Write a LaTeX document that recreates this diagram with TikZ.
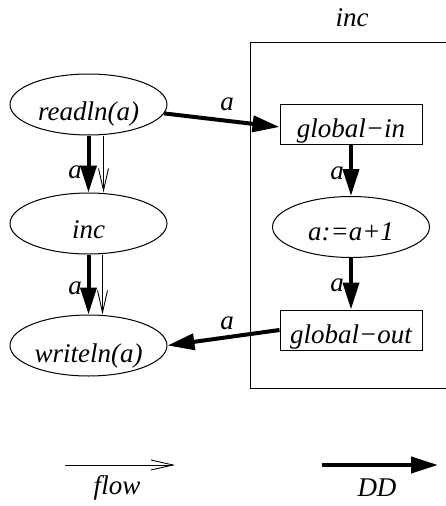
\documentclass[tikz,border=0pt]{standalone}
\usepackage{fontspec}
\setmainfont{Liberation Serif}
\usetikzlibrary{arrows.meta,shapes.geometric}

\tikzset{
  txt/.style={font=\fontsize{27}{31}\selectfont\itshape, inner sep=0pt},
  % base sits #1 below the centre of the shape
  low/.style={text height=2*#1, text depth=0pt},
  ell/.style={txt, ellipse, draw, line width=1pt, minimum width=157pt, minimum height=61pt},
  boxn/.style={txt, rectangle, draw, line width=1pt, minimum width=142pt, minimum height=40pt},
  dd/.style={line width=4pt, -{Triangle[length=27pt,width=16pt]}},
  flowarr/.style={line width=0.9pt, -{Straight Barb[length=22pt,width=10pt]}},
  lbl/.style={txt}
}

\begin{document}
\begin{tikzpicture}[x=1pt, y=-1pt]
  \useasboundingbox (0,0) rectangle (446,506);
  \clip (0,0) rectangle (446,506);

  % cluster of the procedure body
  \draw[line width=1pt] (250,42) rectangle (470,388);
  \node[lbl] (clusterlbl) at (352,18) {inc};

  % main program
  \node[ell, low=16pt] (readln) at (88.5,104.5) {readln(a)};
  \node[ell, low=14.5pt] (inc) at (88.5,223.5) {inc};
  \node[ell, low=16.5pt] (writeln) at (88.5,345.5) {writeln(a)};

  % procedure body
  \node[boxn, low=13pt] (gin) at (351,124.5) {global−in};
  \node[ell, low=13pt] (acalc) at (351,227) {a:=a+1};
  \node[boxn, low=13pt] (gout) at (351,330) {global−out};

  % data dependences
  \draw[dd] (readln) -- ([yshift=-2.5pt]gin.west);
  \draw[dd] (readln) -- (inc);
  \draw[dd] (inc) -- (writeln);
  \draw[dd] (gin) -- (acalc);
  \draw[dd] (acalc) -- (gout);
  \draw[dd] (gout.west) -- (writeln.east);

  % control flow
  \draw[flowarr] ([xshift=15pt]readln.south) -- ([xshift=15pt]inc.north);
  \draw[flowarr] ([xshift=14pt]inc.south) -- ([xshift=14pt]writeln.north);

  % edge labels
  \node[lbl] (la1) at (227,104) {a};
  \node[lbl] (la2) at (75,172) {a};
  \node[lbl] (la3) at (75,288) {a};
  \node[lbl] (la4) at (337,173) {a};
  \node[lbl] (la5) at (337,285) {a};
  \node[lbl] (la6) at (227,323) {a};

  % legend
  \coordinate (f1) at (65,465);
  \coordinate (f2) at (175,465);
  \draw[flowarr] (f1) -- (f2);
  \node[lbl] (flowlbl) at (117,488) {flow};
  \coordinate (d1) at (322,465);
  \coordinate (d2) at (438,465);
  \draw[dd] (d1) -- (d2);
  \node[lbl] (ddlbl) at (377,488) {DD};
\end{tikzpicture}
\end{document}
